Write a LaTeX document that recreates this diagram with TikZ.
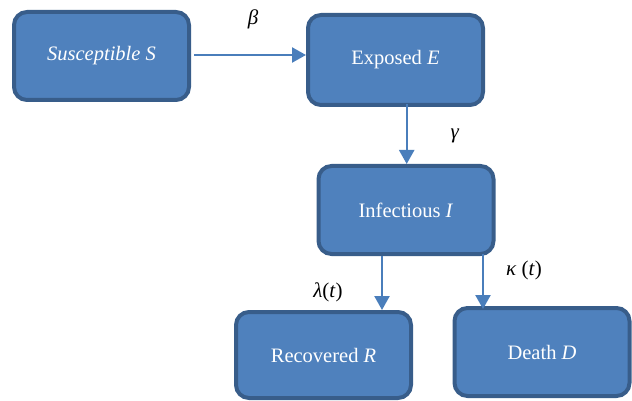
\documentclass[tikz,border=0pt]{standalone}
\usepackage{fontspec}
\setmainfont{Liberation Serif}
\usetikzlibrary{arrows.meta}
\definecolor{boxfill}{HTML}{4F81BD}
\definecolor{boxedge}{HTML}{385D8A}
\definecolor{flow}{HTML}{4A7EBB}
\begin{document}
\begin{tikzpicture}[x=1pt,y=-1pt,
  compartment/.style={draw=boxedge, fill=boxfill, line width=4pt,
    rounded corners=13pt, minimum width=175pt, minimum height=88pt,
    inner sep=0pt, text=white, font=\fontsize{20.5}{24}\selectfont},
  flowarrow/.style={draw=flow, line width=2.3pt,
    -{Triangle[width=15pt,length=14pt]}},
  rate/.style={font=\fontsize{21}{24}\selectfont}]
\useasboundingbox (0,0) rectangle (632,401);
% compartments
\node[compartment] (S) at (101.5,56) {\textit{Susceptible S}};
\node[compartment, minimum height=90pt] (E) at (395.5,60) {Exposed \textit{E}};
\node[compartment] (I) at (406,210) {Infectious \textit{I}};
\node[compartment, minimum height=86pt] (R) at (323.5,355) {Recovered \textit{R}};
\node[compartment] (D) at (542,352) {Death \textit{D}};
% transitions
\draw[flowarrow] ([xshift=3pt,yshift=1pt]S.east) -- ([yshift=1pt]S.east -| E.west);
\draw[flowarrow] ([xshift=0.7pt,yshift=3pt]E.south -| I.north) -- ([xshift=0.7pt]I.north);
\coordinate (toR) at ([xshift=-24pt]I.south);
\coordinate (toD) at ([xshift=77pt,yshift=2pt]I.south);
\draw[flowarrow] (toR) -- (toR |- R.north);
\draw[flowarrow] (toD) -- ([yshift=-3pt]toD |- D.north);
% rates
\node[rate] (beta) at (253,19) {\textit{β}};
\node[rate] (gamma) at (455,136) {\textit{γ}};
\node[rate] (lambda) at (328,292) {\textit{λ}(\textit{t})};
\node[rate] (kappa) at (524,270) {\textit{κ} (\textit{t})};
\end{tikzpicture}
\end{document}
